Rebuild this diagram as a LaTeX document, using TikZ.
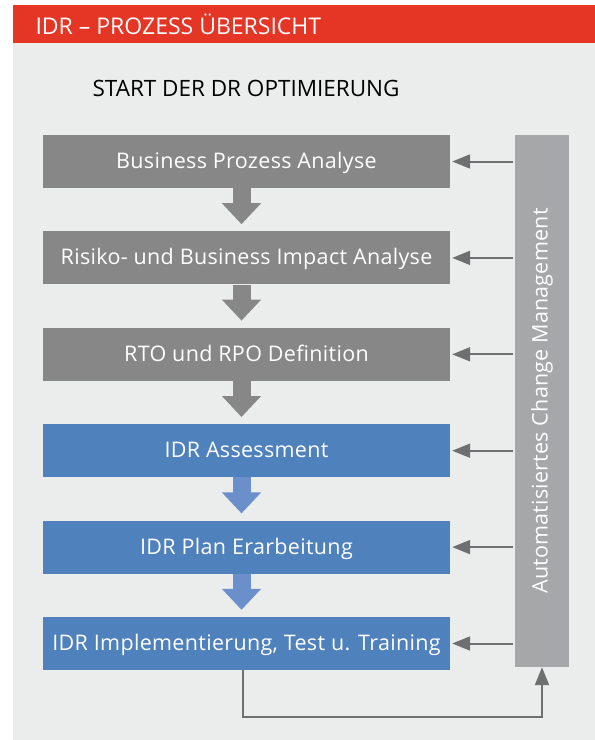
\documentclass[tikz,border=0pt]{standalone}
\usepackage{fontspec}
\setmainfont{Open Sans}
\usepackage{tikz}
\usetikzlibrary{positioning}
\usetikzlibrary{arrows.meta}
\definecolor{idrred}{HTML}{E43525}
\definecolor{idrbg}{HTML}{EBEDEC}
\definecolor{idrgray}{HTML}{878787}
\definecolor{idrblue}{HTML}{4F81BD}
\definecolor{idrblueArrow}{HTML}{6A8FCB}
\definecolor{idrpanel}{HTML}{A6A7A9}
\definecolor{idrline}{HTML}{6E6F71}
\tikzset{stepbox/.style={rectangle,minimum width=407pt,minimum height=53pt,
           inner sep=0pt,text=white,text height=19pt,text depth=5pt,
           font=\fontsize{21.5}{26}\selectfont\addfontfeature{LetterSpace=1.5}},
         graybox/.style={stepbox,fill=idrgray},
         bluebox/.style={stepbox,fill=idrblue},
         downarrow/.style={line width=18pt,shorten >=7pt,
           -{Triangle[width=38pt,length=21pt]}},
         feedback/.style={draw=idrline,line width=2pt,
           -{Triangle[width=14pt,length=18pt]}}}

\begin{document}
\begin{tikzpicture}[x=1pt,y=-1pt]
  \useasboundingbox (0,0) rectangle (595,740);
  % background and header
  \fill[idrbg] (13,43) rectangle (595,740);
  \fill[idrred] (13,5) rectangle (595,43);
  \node[anchor=west,text=white,font=\fontsize{23}{27}\selectfont] (title) at (32,24)
    {IDR -- PROZESS ÜBERSICHT};
  \node[anchor=west,font=\fontsize{22.5}{27}\selectfont] (start) at (89,88)
    {START DER DR OPTIMIERUNG};
  % process steps
  \node[graybox] (b1) at (246.5,161.5) {Business Prozess Analyse};
  \node[graybox,below=43pt of b1] (b2) {Risiko- und Business Impact Analyse};
  \node[graybox,below=43pt of b2] (b3) {RTO und RPO Definition};
  \node[bluebox,below=43pt of b3] (b4) {IDR Assessment};
  \node[bluebox,below=43pt of b4] (b5) {IDR Plan Erarbeitung};
  \node[bluebox,below=43pt of b5] (b6) {IDR Implementierung, Test u. Training};
  % change management panel
  \node[rectangle,fill=idrpanel,minimum width=54pt,minimum height=532pt,inner sep=0pt]
    (panel) at (542,401) {};
  \node[rotate=90,text=white,
        font=\fontsize{21.5}{26}\selectfont\addfontfeature{LetterSpace=1}] (cm)
    at (panel.center) {Automatisiertes Change Management};
  % arrows between steps
  \draw[downarrow,idrgray] ([xshift=-5pt]b1.south) -- ([xshift=-5pt]b2.north);
  \draw[downarrow,idrgray] ([xshift=-5pt]b2.south) -- ([xshift=-5pt]b3.north);
  \draw[downarrow,idrgray] ([xshift=-5pt]b3.south) -- ([xshift=-5pt]b4.north);
  \draw[downarrow,idrblueArrow] ([xshift=-5pt]b4.south) -- ([xshift=-5pt]b5.north);
  \draw[downarrow,idrblueArrow] ([xshift=-5pt]b5.south) -- ([xshift=-5pt]b6.north);
  % feedback from panel
  \foreach \b in {b1,b2,b3,b4,b5,b6}
    \draw[feedback,shorten >=2pt,shorten <=2pt] (panel.west |- \b.east) -- (\b.east);
  \draw[feedback] ([xshift=-4pt]b6.south) -- ++(0,47) -| (panel.south);
\end{tikzpicture}
\end{document}
